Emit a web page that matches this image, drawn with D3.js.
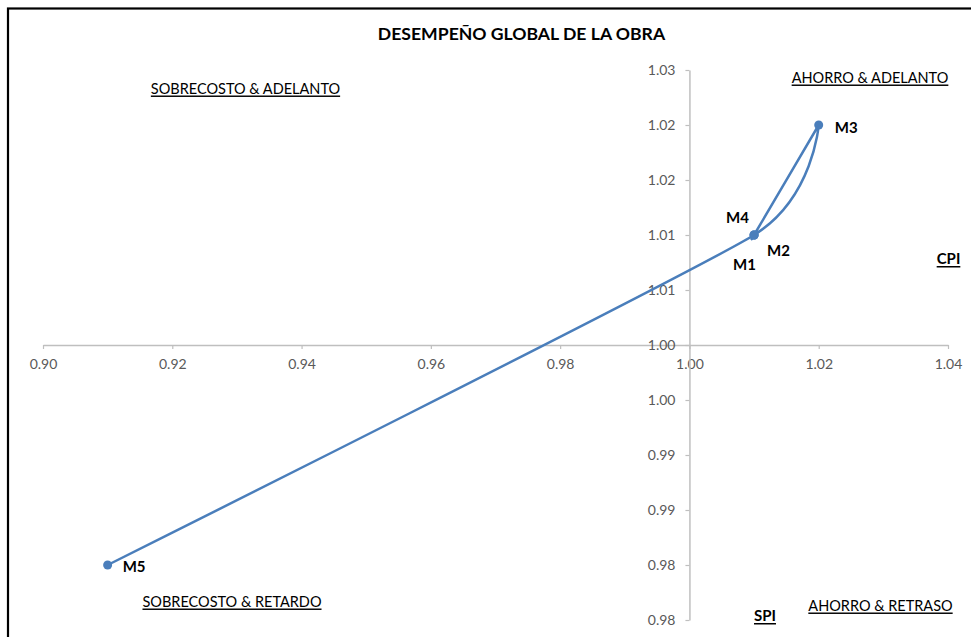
<!DOCTYPE html>
<html>
<head>
<meta charset="utf-8">
<script src="https://cdn.jsdelivr.net/npm/d3@7"></script>
<style>
  html, body { margin: 0; padding: 0; background: #fff; }
  svg { display: block; }
</style>
</head>
<body>
<svg id="chart" width="971" height="637"></svg>
<script>
// ---- data ----
const pointLabels = ["M1", "M2", "M3", "M4", "M5"];
const cpiValues = [1.01, 1.01, 1.02, 1.01, 0.91];   // x (CPI)
const spiValues = [1.01, 1.01, 1.02, 1.01, 0.98];   // y (SPI)
const xTickValues = [0.90, 0.92, 0.94, 0.96, 0.98, 1.00, 1.02, 1.04];
const yTickValues = [0.975, 0.98, 0.985, 0.99, 0.995, 1.00, 1.005, 1.01, 1.015, 1.02, 1.025];
const yTickLabels = ["0.98", "0.98", "0.99", "0.99", "1.00", "1.00", "1.01", "1.01", "1.02", "1.02", "1.03"];
const chartTitle = "DESEMPEÑO GLOBAL DE LA OBRA";
const quadrantTexts = ["SOBRECOSTO & ADELANTO", "AHORRO & ADELANTO", "SOBRECOSTO & RETARDO", "AHORRO & RETRASO"];
const xAxisName = "CPI";
const yAxisName = "SPI";

// ---- drawing ----
const svg = d3.select("#chart");
const FONT = "Lato, 'Open Sans', sans-serif";
const AXIS_COLOR = "#bfbfbf";
const LABEL_COLOR = "#595959";
const SERIES_COLOR = "#4a7ebb";

// frame
svg.append("rect")
  .attr("x", 8).attr("y", 8.5).attr("width", 980).attr("height", 650)
  .attr("fill", "#fff").attr("stroke", "#000").attr("stroke-width", 2.2);

const x = d3.scaleLinear().domain([0.90, 1.04]).range([43, 948]);
const y = d3.scaleLinear().domain([0.975, 1.025]).range([620, 70]);

// x axis crossing at y = 1.00
const xAxis = d3.axisBottom(x)
  .tickValues(xTickValues)
  .tickFormat(d3.format(".2f"))
  .tickSizeInner(4).tickSizeOuter(0).tickPadding(10);
const gx = svg.append("g").attr("transform", `translate(0,${y(1.00)})`).call(xAxis);

// y axis crossing at x = 1.00
const yAxis = d3.axisLeft(y)
  .tickValues(yTickValues)
  .tickFormat((d, i) => yTickLabels[i])
  .tickSizeInner(4).tickSizeOuter(0).tickPadding(10);
const gy = svg.append("g").attr("transform", `translate(${x(1.00)},0)`).call(yAxis);

[gx, gy].forEach(g => {
  g.select(".domain").attr("stroke", AXIS_COLOR).attr("stroke-width", 1.5);
  g.selectAll(".tick line").attr("stroke", AXIS_COLOR).attr("stroke-width", 1.2);
  g.selectAll(".tick text").attr("fill", LABEL_COLOR)
    .style("font-family", FONT).style("font-size", "14px");
});

// series (smoothed line)
const pts = pointLabels.map((m, i) => ({ label: m, cx: cpiValues[i], sy: spiValues[i] }));
const line = d3.line()
  .x(d => x(d.cx)).y(d => y(d.sy))
  .curve(d3.curveCardinal.tension(0.5));
svg.append("path").datum(pts)
  .attr("d", line)
  .attr("fill", "none")
  .attr("stroke", SERIES_COLOR)
  .attr("stroke-width", 2.5)
  .attr("stroke-linejoin", "round");

svg.selectAll("circle.pt").data(pts).enter().append("circle")
  .attr("class", "pt")
  .attr("cx", d => x(d.cx)).attr("cy", d => y(d.sy))
  .attr("r", 4.5).attr("fill", SERIES_COLOR);

// point labels (offsets in px from the point)
const labelOffsets = [[-21, 29], [13, 15], [16, 2], [-28, -18], [15, 1]];
svg.selectAll("text.ptl").data(pts).enter().append("text")
  .attr("class", "ptl")
  .attr("x", (d, i) => x(d.cx) + labelOffsets[i][0])
  .attr("y", (d, i) => y(d.sy) + labelOffsets[i][1])
  .attr("dominant-baseline", "central")
  .style("font-family", FONT).style("font-size", "15px").style("font-weight", "bold")
  .attr("fill", "#000")
  .text(d => d.label);

// title
svg.append("text")
  .attr("x", 521.5).attr("y", 33)
  .attr("text-anchor", "middle").attr("dominant-baseline", "central")
  .style("font-family", FONT).style("font-size", "17.6px").style("font-weight", "bold")
  .attr("fill", "#000")
  .text(chartTitle);

// quadrant texts (underlined)
const quadPos = [[245.5, 88], [870, 77], [232, 601], [880.5, 605]];
svg.selectAll("text.quad").data(quadrantTexts).enter().append("text")
  .attr("class", "quad")
  .attr("x", (d, i) => quadPos[i][0]).attr("y", (d, i) => quadPos[i][1])
  .attr("text-anchor", "middle").attr("dominant-baseline", "central")
  .style("font-family", FONT).style("font-size", "14.5px")
  .style("text-decoration", "underline")
  .attr("fill", "#000")
  .text(d => d);

// axis names
svg.append("text")
  .attr("x", 948.5).attr("y", 258)
  .attr("text-anchor", "middle").attr("dominant-baseline", "central")
  .style("font-family", FONT).style("font-size", "15px").style("font-weight", "bold")
  .style("text-decoration", "underline")
  .attr("fill", "#000").text(xAxisName);
svg.append("text")
  .attr("x", 765).attr("y", 615)
  .attr("text-anchor", "middle").attr("dominant-baseline", "central")
  .style("font-family", FONT).style("font-size", "15px").style("font-weight", "bold")
  .style("text-decoration", "underline")
  .attr("fill", "#000").text(yAxisName);
</script>
</body>
</html>
